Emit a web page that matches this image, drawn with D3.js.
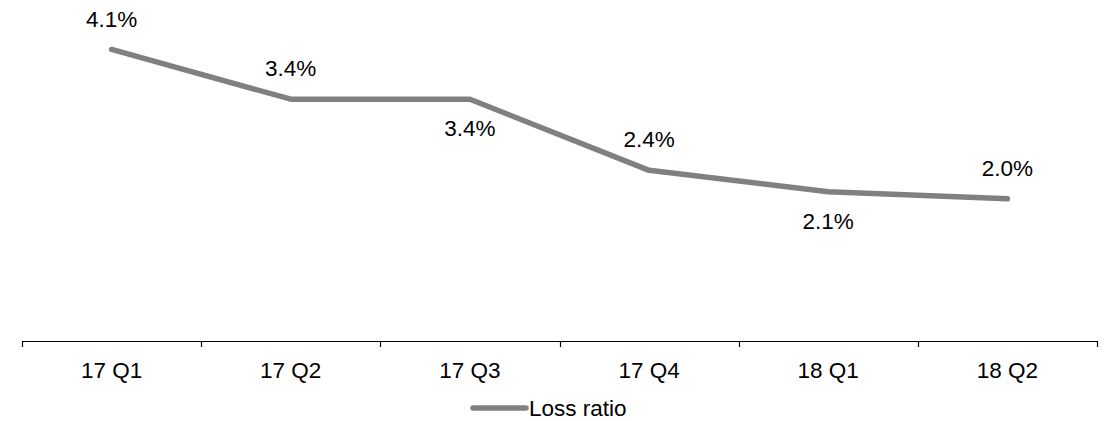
<!DOCTYPE html>
<html>
<head>
<meta charset="utf-8">
<script src="https://cdn.jsdelivr.net/npm/d3@7"></script>
<style>
  html, body { margin: 0; padding: 0; background: #fff; }
  svg { display: block; }
  text { font-family: "Liberation Sans", Arial, sans-serif; fill: #000; }
</style>
</head>
<body>
<svg id="chart" width="1112" height="421"></svg>
<script>
// Quarterly loss ratio (%)
const quarters = ["17 Q1", "17 Q2", "17 Q3", "17 Q4", "18 Q1", "18 Q2"];
const lossRatio = [4.1, 3.4, 3.4, 2.4, 2.1, 2.0];
const labelSide = ["above", "above", "below", "above", "below", "above"];
const seriesName = "Loss ratio";

const width = 1112, height = 421;
const margin = { left: 22, right: 15, top: 21, bottom: 80 };
const lineColor = "#808080";
const fontSize = 22.5;

const svg = d3.select("#chart");

const x = d3.scaleBand()
  .domain(quarters)
  .range([margin.left, width - margin.right])
  .padding(0);

const y = d3.scaleLinear()
  .domain([0, 4.5])
  .range([height - margin.bottom, margin.top]);

// Category axis with tick marks on band boundaries
const axisY = y(0);
const axisG = svg.append("g").attr("class", "x-axis");
axisG.append("line")
  .attr("x1", x.range()[0]).attr("x2", x.range()[1])
  .attr("y1", axisY + 0.5).attr("y2", axisY + 0.5)
  .attr("stroke", "#000").attr("stroke-width", 1.2);
const boundaries = quarters.map(q => x(q)).concat([x.range()[1]]);
axisG.selectAll("line.tick")
  .data(boundaries)
  .join("line")
  .attr("class", "tick")
  .attr("x1", d => Math.round(d) + 0.5).attr("x2", d => Math.round(d) + 0.5)
  .attr("y1", axisY).attr("y2", axisY + 6)
  .attr("stroke", "#000").attr("stroke-width", 1.2);
axisG.selectAll("text")
  .data(quarters)
  .join("text")
  .attr("x", d => x(d) + x.bandwidth() / 2)
  .attr("y", axisY + 37)
  .attr("text-anchor", "middle")
  .attr("font-size", fontSize)
  .text(d => d);

// Series line
const pts = quarters.map((q, i) => ({ q, v: lossRatio[i], side: labelSide[i] }));
const line = d3.line()
  .x(d => x(d.q) + x.bandwidth() / 2)
  .y(d => y(d.v));

svg.append("path")
  .datum(pts)
  .attr("d", line)
  .attr("fill", "none")
  .attr("stroke", lineColor)
  .attr("stroke-width", 5.5)
  .attr("stroke-linecap", "round")
  .attr("stroke-linejoin", "round");

// Value labels
svg.selectAll("text.val")
  .data(pts)
  .join("text")
  .attr("class", "val")
  .attr("x", d => x(d.q) + x.bandwidth() / 2)
  .attr("y", d => y(d.v) + (d.side === "above" ? -31 : 29))
  .attr("dy", "0.36em")
  .attr("text-anchor", "middle")
  .attr("font-size", fontSize)
  .text(d => d.v.toFixed(1) + "%");

// Legend
const legend = svg.append("g").attr("transform", "translate(0,408)");
legend.append("line")
  .attr("x1", 473).attr("x2", 526)
  .attr("y1", 0).attr("y2", 0)
  .attr("stroke", lineColor)
  .attr("stroke-width", 5.5)
  .attr("stroke-linecap", "round");
legend.append("text")
  .attr("x", 529)
  .attr("y", 0)
  .attr("dy", "0.36em")
  .attr("font-size", fontSize)
  .text(seriesName);
</script>
</body>
</html>
